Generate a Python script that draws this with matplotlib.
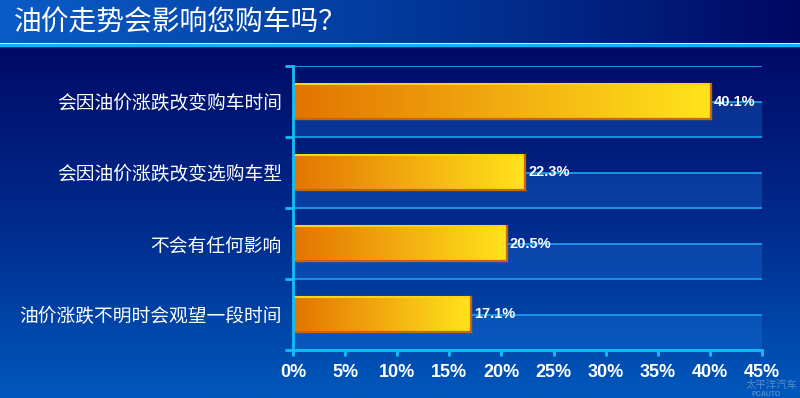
import numpy as np
import matplotlib
matplotlib.use('Agg')
import matplotlib.pyplot as plt
from matplotlib.colors import LinearSegmentedColormap
from matplotlib.patches import Rectangle

# chart data
title = '油价走势会影响您购车吗？'
categories = ['会因油价涨跌改变购车时间', '会因油价涨跌改变选购车型',
              '不会有任何影响', '油价涨跌不明时会观望一段时间']
values = [40.1, 22.3, 20.5, 17.1]
x_ticks = [0, 5, 10, 15, 20, 25, 30, 35, 40, 45]
x_tick_labels = ['0%', '5%', '10%', '15%', '20%', '25%', '30%', '35%', '40%', '45%']

plt.rcParams['font.family'] = ['Noto Sans CJK SC', 'DejaVu Sans']

W, H = 800, 398
fig = plt.figure(figsize=(W / 100, H / 100), dpi=100)

# background: title bar + vertical gradient body
bg = fig.add_axes([0, 0, 1, 1])
bg.set_axis_off()
body_cmap = LinearSegmentedColormap.from_list('body', ['#000a66', '#002a8c', '#0058bc'])
bg.imshow(np.linspace(0, 1, 256).reshape(-1, 1), cmap=body_cmap,
          extent=(0, 1, 0, 1 - 46 / H), aspect='auto')
head_cmap = LinearSegmentedColormap.from_list('head', ['#0a5cc6', '#023a9c', '#000862'])
bg.imshow(np.linspace(0, 1, 256).reshape(1, -1), cmap=head_cmap,
          extent=(0, 1, 1 - 43 / H, 1), aspect='auto')
bg.axhline(1 - 44.5 / H, color='#12b4ec', lw=2.5)
bg.set_xlim(0, 1)
bg.set_ylim(0, 1)

fig.text(14 / W, 1 - 22 / H, title, fontsize=20, color='white', va='center')

# main plot area
ax = fig.add_axes([293 / W, 1 - 350 / H, (762 - 293) / W, (350 - 66) / H])
ax.patch.set_alpha(0)

ypos = np.arange(len(categories))
cyan = '#10c0f4'

# alternating light bands and gridlines
for y in ypos:
    ax.axhspan(y, y + 0.5, color='#1e78e0', alpha=0.3, lw=0, zorder=0)
for y in np.arange(-0.5, len(categories), 0.5):
    ax.axhline(y, color='#169ceb', lw=1.3, zorder=1)

# gradient bars
bar_cmap = LinearSegmentedColormap.from_list('bar', ['#e27400', '#f2ac10', '#ffe41c'])
half = 0.24
for y, v in zip(ypos, values):
    ax.imshow(np.linspace(0, 1, 256).reshape(1, -1), cmap=bar_cmap,
              extent=(0, v, y - half, y + half), aspect='auto', zorder=3)
    ax.add_patch(Rectangle((0, y - half), v, 2 * half, fill=False,
                           edgecolor='#ffd21a', lw=1.5, zorder=4))
    ax.plot([v, v], [y - half, y + half], color='#c8640c', lw=1.6, zorder=4)
    ax.plot([0, v], [y + half, y + half], color='#c8640c', lw=1.6, zorder=4)
    ax.text(v + 0.3, y, f'{v}%', va='center', ha='left', color='white',
            fontsize=10.5, fontweight='bold', family='Liberation Sans', zorder=5)

ax.set_xlim(0, 45)
ax.set_ylim(len(categories) - 0.5, -0.5)

# axes styling
for s in ['top', 'right']:
    ax.spines[s].set_visible(False)
for s in ['left', 'bottom']:
    ax.spines[s].set_color(cyan)
    ax.spines[s].set_linewidth(2)
    ax.spines[s].set_zorder(6)

ax.set_yticks(np.arange(-0.5, len(categories), 1.0))
ax.set_yticklabels([])
ax.set_yticks(ypos, labels=categories, minor=True)
ax.tick_params(axis='y', which='major', direction='out', length=6, width=2, color=cyan)
ax.tick_params(axis='y', which='minor', length=0, pad=8, labelsize=13.5, labelcolor='white')

ax.set_xticks(x_ticks, labels=x_tick_labels)
ax.tick_params(axis='x', direction='out', length=4, width=2, color=cyan, pad=6,
               labelcolor='white')
for lbl in ax.get_xticklabels():
    lbl.set_family('Liberation Sans')
    lbl.set_fontweight('bold')
    lbl.set_fontsize(13)

# watermark
fig.text(746 / W, 1 - 388 / H, '太平洋汽车', fontsize=7.5, color='#a8c0e0', alpha=0.5,
         va='baseline')
fig.text(752 / W, 1 - 396 / H, 'PCAUTO', fontsize=5, color='#a8c0e0', alpha=0.5,
         family='Liberation Sans', fontweight='bold', va='baseline')

fig.savefig('out.png', dpi=100)
